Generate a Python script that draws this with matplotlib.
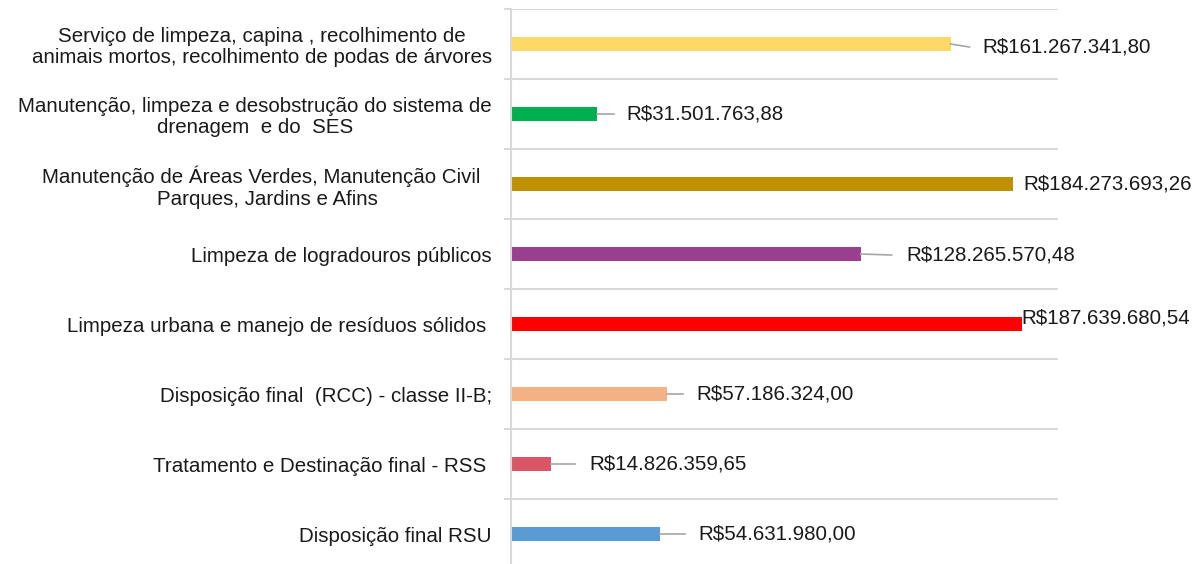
import matplotlib
matplotlib.use("Agg")
import matplotlib.pyplot as plt
import matplotlib.transforms as mtransforms
import numpy as np

plt.rcParams['font.family'] = ['Liberation Sans', 'DejaVu Sans']

# data, top to bottom
categories = [
    "Serviço de limpeza, capina , recolhimento de\nanimais mortos, recolhimento de podas de árvores",
    "Manutenção, limpeza e desobstrução do sistema de\ndrenagem  e do  SES",
    "Manutenção de Áreas Verdes, Manutenção Civil  \nParques, Jardins e Afins",
    "Limpeza de logradouros públicos",
    "Limpeza urbana e manejo de resíduos sólidos ",
    "Disposição final  (RCC) - classe II-B;",
    "Tratamento e Destinação final - RSS ",
    "Disposição final RSU",
]
values = [161267341.80, 31501763.88, 184273693.26, 128265570.48,
          187639680.54, 57186324.00, 14826359.65, 54631980.00]
bar_colors = ["#FFD966", "#00B050", "#BF9000", "#9A3E8F",
              "#FF0000", "#F4B183", "#DA5566", "#5B9BD5"]

# label placement (pixels from bar end) and leader line lengths
label_dx = [32, 30, 10, 46, -1, 30, 38, 38]
label_dy = [-3, 0, 0, -1, 6, 0, 0, 0]
leader_len = [19, 17, 0, 31, 0, 16, 24, 25]


def brl(v):
    s = f"{v:,.2f}".replace(",", "X").replace(".", ",").replace("X", ".")
    return "R$" + s


fig = plt.figure(figsize=(11.94, 5.64), dpi=100)
ax = fig.add_axes([511 / 1194, -5 / 564, 547 / 1194, 560 / 564])

y = np.arange(len(categories))
ax.barh(y, values, height=0.19, color=bar_colors)

ax.set_xlim(0, 200.7e6)
ax.set_ylim(len(categories) - 0.5, -0.5)

grid_c = "#D9D9D9"
for s in ["top", "right", "bottom"]:
    ax.spines[s].set_visible(False)
ax.spines["left"].set_color(grid_c)
ax.spines["left"].set_linewidth(1.5)
ax.xaxis.set_visible(False)

ax.set_yticks(y)
ax.set_yticklabels(categories, fontsize=14.8, color="#1A1A1A", linespacing=1.16)
for t in ax.get_yticklabels():
    t.set_multialignment("center")
ax.tick_params(axis="y", which="major", length=0, pad=13.7)
ax.set_yticks(np.arange(-0.5, len(categories)), minor=True)
ax.tick_params(axis="y", which="minor", length=5, width=1.5, color=grid_c)
ax.grid(axis="y", which="minor", color=grid_c, linewidth=1.5)
ax.set_axisbelow(True)

for i, v in enumerate(values):
    ax.annotate(brl(v), xy=(v, i), xytext=(label_dx[i], label_dy[i]),
                textcoords="offset pixels", ha="left", va="center",
                fontsize=14.8, color="#1A1A1A")
    if leader_len[i] > 0:
        tr_end = mtransforms.offset_copy(ax.transData, fig=fig, x=leader_len[i],
                                         y=label_dy[i], units="dots")
        p0 = ax.transData.transform((v, i))
        p1 = tr_end.transform((v, i))
        ax.plot([p0[0], p1[0]], [p0[1], p1[1]], transform=None,
                color="#A6A6A6", linewidth=1.2)

fig.savefig("out.png", dpi=100)
